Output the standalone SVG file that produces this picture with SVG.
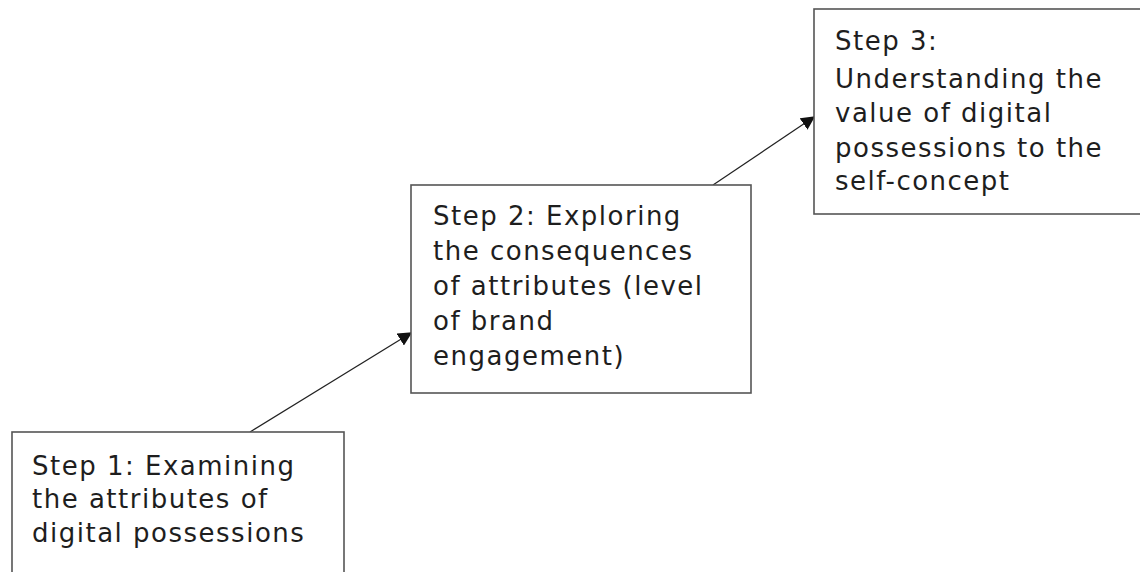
<svg xmlns="http://www.w3.org/2000/svg" width="1140" height="572" viewBox="0 0 1140 572">
  <style>
    .box { fill: #ffffff; stroke: #555555; stroke-width: 1.6; }
    .label { font-family: "DejaVu Sans", Verdana, sans-serif; font-size: 26px; fill: #1e1e1e; letter-spacing: 1.5px; }
    .link { stroke: #222222; stroke-width: 1.2; fill: none; marker-end: url(#head); }
  </style>
  <defs>
    <marker id="head" viewBox="0 0 10 10" refX="9" refY="5" markerWidth="14" markerHeight="14" markerUnits="userSpaceOnUse" orient="auto">
      <path d="M0,0 L10,5 L0,10 z" fill="#111111"/>
    </marker>
  </defs>
  <rect width="1140" height="572" fill="#ffffff"/>

  <!-- connectors between steps -->
  <g id="connectors">
    <line class="link" x1="250" y1="432" x2="411" y2="333"/>
    <line class="link" x1="713" y1="185" x2="814" y2="117"/>
  </g>

  <g id="step1">
    <rect class="box" x="12" y="432" width="332" height="160"/>
    <text class="label">
      <tspan x="32" y="475">Step 1: Examining</tspan>
      <tspan x="32" y="508">the attributes of</tspan>
      <tspan x="32" y="542">digital possessions</tspan>
    </text>
  </g>

  <g id="step2">
    <rect class="box" x="411" y="185" width="340" height="208"/>
    <text class="label">
      <tspan x="433" y="225">Step 2: Exploring</tspan>
      <tspan x="433" y="260">the consequences</tspan>
      <tspan x="433" y="295">of attributes (level</tspan>
      <tspan x="433" y="330">of brand</tspan>
      <tspan x="433" y="365">engagement)</tspan>
    </text>
  </g>

  <g id="step3">
    <rect class="box" x="814" y="9" width="340" height="205"/>
    <text class="label">
      <tspan x="835" y="50">Step 3:</tspan>
      <tspan x="835" y="88">Understanding the</tspan>
      <tspan x="835" y="122">value of digital</tspan>
      <tspan x="835" y="157">possessions to the</tspan>
      <tspan x="835" y="190">self-concept</tspan>
    </text>
  </g>
</svg>
